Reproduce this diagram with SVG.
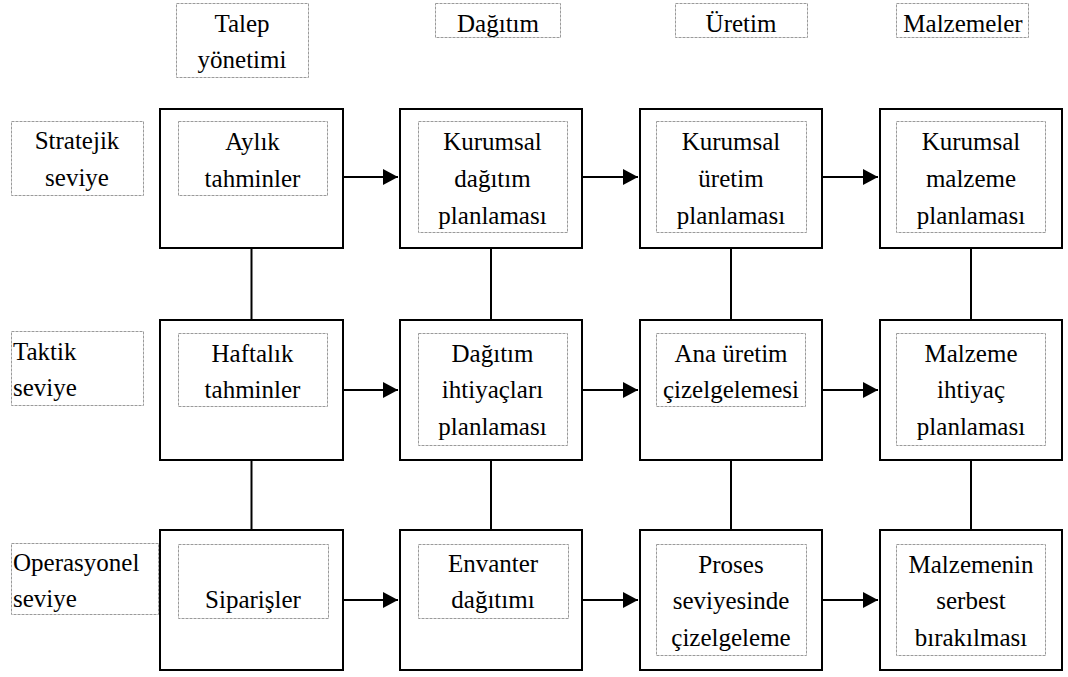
<svg xmlns="http://www.w3.org/2000/svg" width="1068" height="677" viewBox="0 0 1068 677" font-family="Liberation Serif, Times New Roman, DejaVu Serif, serif" font-size="25">
<style>
text{fill:#000;text-anchor:middle}
.l{text-anchor:start}
.box{fill:#fff;stroke:#000;stroke-width:2}
.dot{fill:none;stroke:#9a9a9a;stroke-width:1;stroke-dasharray:3 1}
.con{stroke:#000;stroke-width:2;fill:none}
</style>
<defs>
<marker id="ah" viewBox="0 0 15 16" markerWidth="15" markerHeight="16" refX="15" refY="8" orient="auto" markerUnits="userSpaceOnUse">
<path d="M0,0 L15,8 L0,16 Z" fill="#000"/>
</marker>
</defs>
<rect width="1068" height="677" fill="#fff"/>

<g id="headers">
<g id="h-talep"><rect class="dot" x="176.5" y="3.5" width="132" height="74"/><text x="242" y="32">Talep</text><text x="242" y="68">yönetimi</text></g>
<g id="h-dagitim"><rect class="dot" x="435.5" y="3.5" width="125" height="34"/><text x="498" y="32">Dağıtım</text></g>
<g id="h-uretim"><rect class="dot" x="675.5" y="3.5" width="132" height="34"/><text x="741" y="32">Üretim</text></g>
<g id="h-malzemeler"><rect class="dot" x="896.5" y="3.5" width="132" height="34"/><text x="963" y="32">Malzemeler</text></g>
</g>

<g id="levels">
<g id="lv-stratejik"><rect class="dot" x="11.5" y="121.5" width="132" height="74"/><text x="77" y="149">Stratejik</text><text x="77" y="186">seviye</text></g>
<g id="lv-taktik"><rect class="dot" x="11.5" y="331.5" width="132" height="74"/><text class="l" x="13" y="360">Taktik</text><text class="l" x="13" y="396">seviye</text></g>
<g id="lv-operasyonel"><rect class="dot" x="11.5" y="543.5" width="147" height="71"/><text class="l" x="13" y="571">Operasyonel</text><text class="l" x="13" y="607">seviye</text></g>
</g>

<g id="connectors">
<line class="con" x1="251.5" y1="249" x2="251.5" y2="319"/>
<line class="con" x1="491" y1="249" x2="491" y2="319"/>
<line class="con" x1="731" y1="249" x2="731" y2="319"/>
<line class="con" x1="971" y1="249" x2="971" y2="319"/>
<line class="con" x1="251.5" y1="461" x2="251.5" y2="529"/>
<line class="con" x1="491" y1="461" x2="491" y2="529"/>
<line class="con" x1="731" y1="461" x2="731" y2="529"/>
<line class="con" x1="971" y1="461" x2="971" y2="529"/>
<line class="con" x1="344" y1="177" x2="398" y2="177" marker-end="url(#ah)"/>
<line class="con" x1="583" y1="177" x2="638" y2="177" marker-end="url(#ah)"/>
<line class="con" x1="823" y1="177" x2="878" y2="177" marker-end="url(#ah)"/>
<line class="con" x1="344" y1="390" x2="398" y2="390" marker-end="url(#ah)"/>
<line class="con" x1="583" y1="390" x2="638" y2="390" marker-end="url(#ah)"/>
<line class="con" x1="823" y1="390" x2="878" y2="390" marker-end="url(#ah)"/>
<line class="con" x1="344" y1="600" x2="398" y2="600" marker-end="url(#ah)"/>
<line class="con" x1="583" y1="600" x2="638" y2="600" marker-end="url(#ah)"/>
<line class="con" x1="823" y1="600" x2="878" y2="600" marker-end="url(#ah)"/>
</g>

<g id="n-aylik"><rect class="box" x="160" y="109" width="183" height="139"/><rect class="dot" x="178.5" y="121.5" width="149" height="74"/><text x="252.5" y="150">Aylık</text><text x="252.5" y="187">tahminler</text></g>
<g id="n-kurumsal-dagitim"><rect class="box" x="400" y="109" width="182" height="139"/><rect class="dot" x="418.5" y="121.5" width="149" height="111"/><text x="492.5" y="150">Kurumsal</text><text x="492.5" y="187">dağıtım</text><text x="492.5" y="224">planlaması</text></g>
<g id="n-kurumsal-uretim"><rect class="box" x="640" y="109" width="182" height="139"/><rect class="dot" x="656.5" y="121.5" width="150" height="111"/><text x="731" y="150">Kurumsal</text><text x="731" y="187">üretim</text><text x="731" y="224">planlaması</text></g>
<g id="n-kurumsal-malzeme"><rect class="box" x="880" y="109" width="182" height="139"/><rect class="dot" x="896.5" y="121.5" width="149" height="111"/><text x="971" y="150">Kurumsal</text><text x="971" y="187">malzeme</text><text x="971" y="224">planlaması</text></g>

<g id="n-haftalik"><rect class="box" x="160" y="320" width="183" height="140"/><rect class="dot" x="178.5" y="333.5" width="149" height="73"/><text x="252.5" y="362">Haftalık</text><text x="252.5" y="398">tahminler</text></g>
<g id="n-dagitim-ihtiyac"><rect class="box" x="400" y="320" width="182" height="140"/><rect class="dot" x="418.5" y="333.5" width="149" height="112"/><text x="492.5" y="362">Dağıtım</text><text x="492.5" y="398">ihtiyaçları</text><text x="492.5" y="435">planlaması</text></g>
<g id="n-ana-uretim"><rect class="box" x="640" y="320" width="182" height="140"/><rect class="dot" x="656.5" y="333.5" width="149" height="73"/><text x="731" y="362">Ana üretim</text><text x="731" y="398">çizelgelemesi</text></g>
<g id="n-malzeme-ihtiyac"><rect class="box" x="880" y="320" width="182" height="140"/><rect class="dot" x="896.5" y="333.5" width="149" height="112"/><text x="971" y="362">Malzeme</text><text x="971" y="398">ihtiyaç</text><text x="971" y="435">planlaması</text></g>

<g id="n-siparisler"><rect class="box" x="160" y="530" width="183" height="140"/><rect class="dot" x="178.5" y="544.5" width="150" height="74"/><text x="253" y="608">Siparişler</text></g>
<g id="n-envanter"><rect class="box" x="400" y="530" width="182" height="140"/><rect class="dot" x="418.5" y="544.5" width="150" height="74"/><text x="493" y="572">Envanter</text><text x="493" y="608">dağıtımı</text></g>
<g id="n-proses"><rect class="box" x="640" y="530" width="182" height="140"/><rect class="dot" x="656.5" y="544.5" width="150" height="111"/><text x="731" y="573">Proses</text><text x="731" y="609">seviyesinde</text><text x="731" y="646">çizelgeleme</text></g>
<g id="n-malzeme-serbest"><rect class="box" x="880" y="530" width="182" height="140"/><rect class="dot" x="896.5" y="544.5" width="149" height="111"/><text x="971" y="573">Malzemenin</text><text x="971" y="609">serbest</text><text x="971" y="646">bırakılması</text></g>
</svg>
